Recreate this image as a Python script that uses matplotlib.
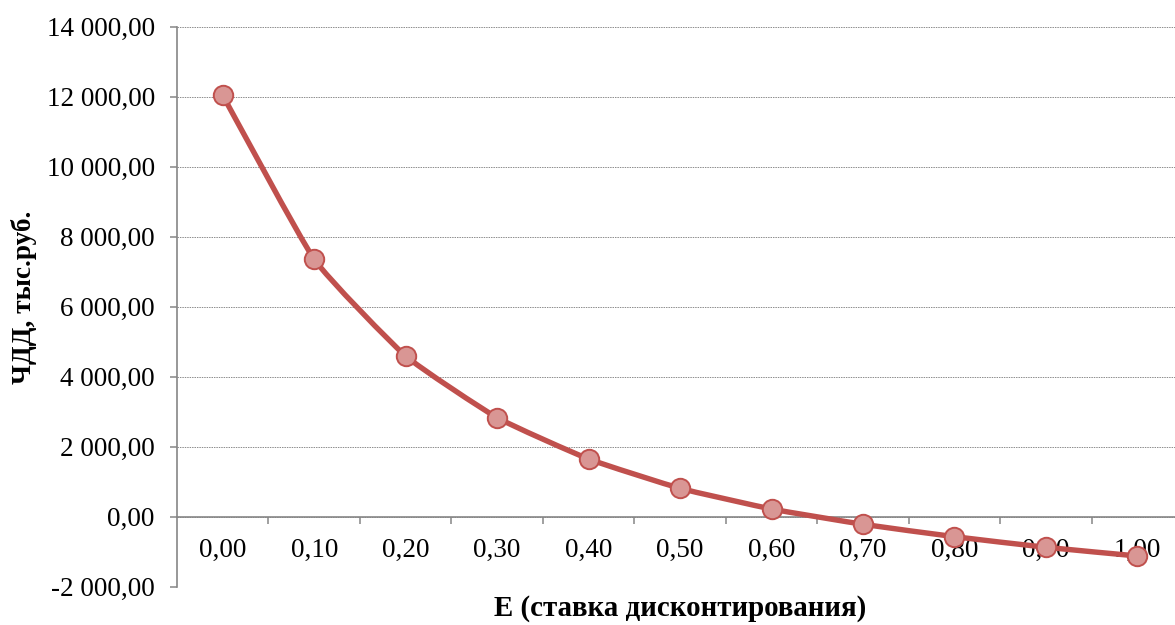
import matplotlib
matplotlib.use("Agg")
import matplotlib.pyplot as plt
from matplotlib.path import Path
from matplotlib.patches import PathPatch
import numpy as np

plt.rcParams['font.family'] = ['Liberation Serif', 'DejaVu Serif']

# Discount rate categories and net present value (thousand rubles)
rates = ["0,00", "0,10", "0,20", "0,30", "0,40", "0,50",
         "0,60", "0,70", "0,80", "0,90", "1,00"]
npv = [12040, 7354, 4591, 2829, 1649, 811, 220, -217, -571, -874, -1123]

y_ticks = [-2000, 0, 2000, 4000, 6000, 8000, 10000, 12000, 14000]
y_tick_labels = ["-2 000,00", "0,00", "2 000,00", "4 000,00", "6 000,00",
                 "8 000,00", "10 000,00", "12 000,00", "14 000,00"]

x_title = "E (ставка дисконтирования)"
y_title = "ЧДД, тыс.руб."

line_color = "#C0504D"
marker_face = "#D99694"
axis_gray = "#868686"

fig = plt.figure(figsize=(11.75, 6.25), dpi=100)
left = 177 / 1175
width = 11 * 91.47 / 1175
bottom = (625 - 586.7) / 625
top = (625 - 26.7) / 625
ax = fig.add_axes([left, bottom, width, top - bottom])

x = np.arange(len(rates))
y = np.array(npv, dtype=float)

# Smoothed line: gentle cubic Bezier segments through every data point
tension = 1.0 / 14.0
pts = np.column_stack([x, y])
ext = np.vstack([pts[0], pts, pts[-1]])
verts = [tuple(pts[0])]
codes = [Path.MOVETO]
for i in range(len(pts) - 1):
    p0, p1, p2, p3 = ext[i], ext[i + 1], ext[i + 2], ext[i + 3]
    c1 = p1 + (p2 - p0) * tension
    c2 = p2 - (p3 - p1) * tension
    verts += [tuple(c1), tuple(c2), tuple(p2)]
    codes += [Path.CURVE4, Path.CURVE4, Path.CURVE4]
curve = PathPatch(Path(verts, codes), facecolor="none", edgecolor=line_color,
                  linewidth=3.9, capstyle="round", joinstyle="round", zorder=3)
ax.add_patch(curve)
ax.plot(x, y, linestyle="none", marker="o", markersize=14,
        markerfacecolor=marker_face, markeredgecolor=line_color,
        markeredgewidth=1.4, zorder=4)

ax.set_xlim(-0.5, len(rates) - 0.5)
ax.set_ylim(-2000, 14000)
ax.set_axisbelow(True)

# Gridlines
ax.set_yticks(y_ticks)
ax.set_yticklabels(y_tick_labels, fontsize=19.5)
ax.yaxis.grid(True, color="#8c8c8c", linestyle=(0, (1.5, 1)), linewidth=0.7)
ax.tick_params(axis="y", direction="out", length=5, width=1.1,
               color=axis_gray, pad=11)

# Category axis crossing at zero
for s in ("top", "right"):
    ax.spines[s].set_visible(False)
ax.spines["bottom"].set_position(("data", 0))
ax.spines["bottom"].set_color(axis_gray)
ax.spines["bottom"].set_linewidth(1.2)
ax.spines["left"].set_color(axis_gray)
ax.spines["left"].set_linewidth(1.2)

ax.set_xticks(np.arange(0.5, len(rates) - 0.5, 1.0))
ax.set_xticklabels([])
ax.tick_params(axis="x", which="major", direction="out", length=5, width=1.1,
               color=axis_gray)
ax.set_xticks(x, minor=True)
ax.set_xticklabels(rates, minor=True, fontsize=19.5)
ax.tick_params(axis="x", which="minor", length=0, pad=15)

fig.text(680 / 1175, 1 - 608 / 625, x_title, ha="center", va="center",
         fontsize=20.8, fontweight="bold")
fig.text(24 / 1175, 1 - 297 / 625, y_title, ha="center", va="center",
         rotation=90, fontsize=19.6, fontweight="bold")

fig.savefig("out.png", dpi=100)
